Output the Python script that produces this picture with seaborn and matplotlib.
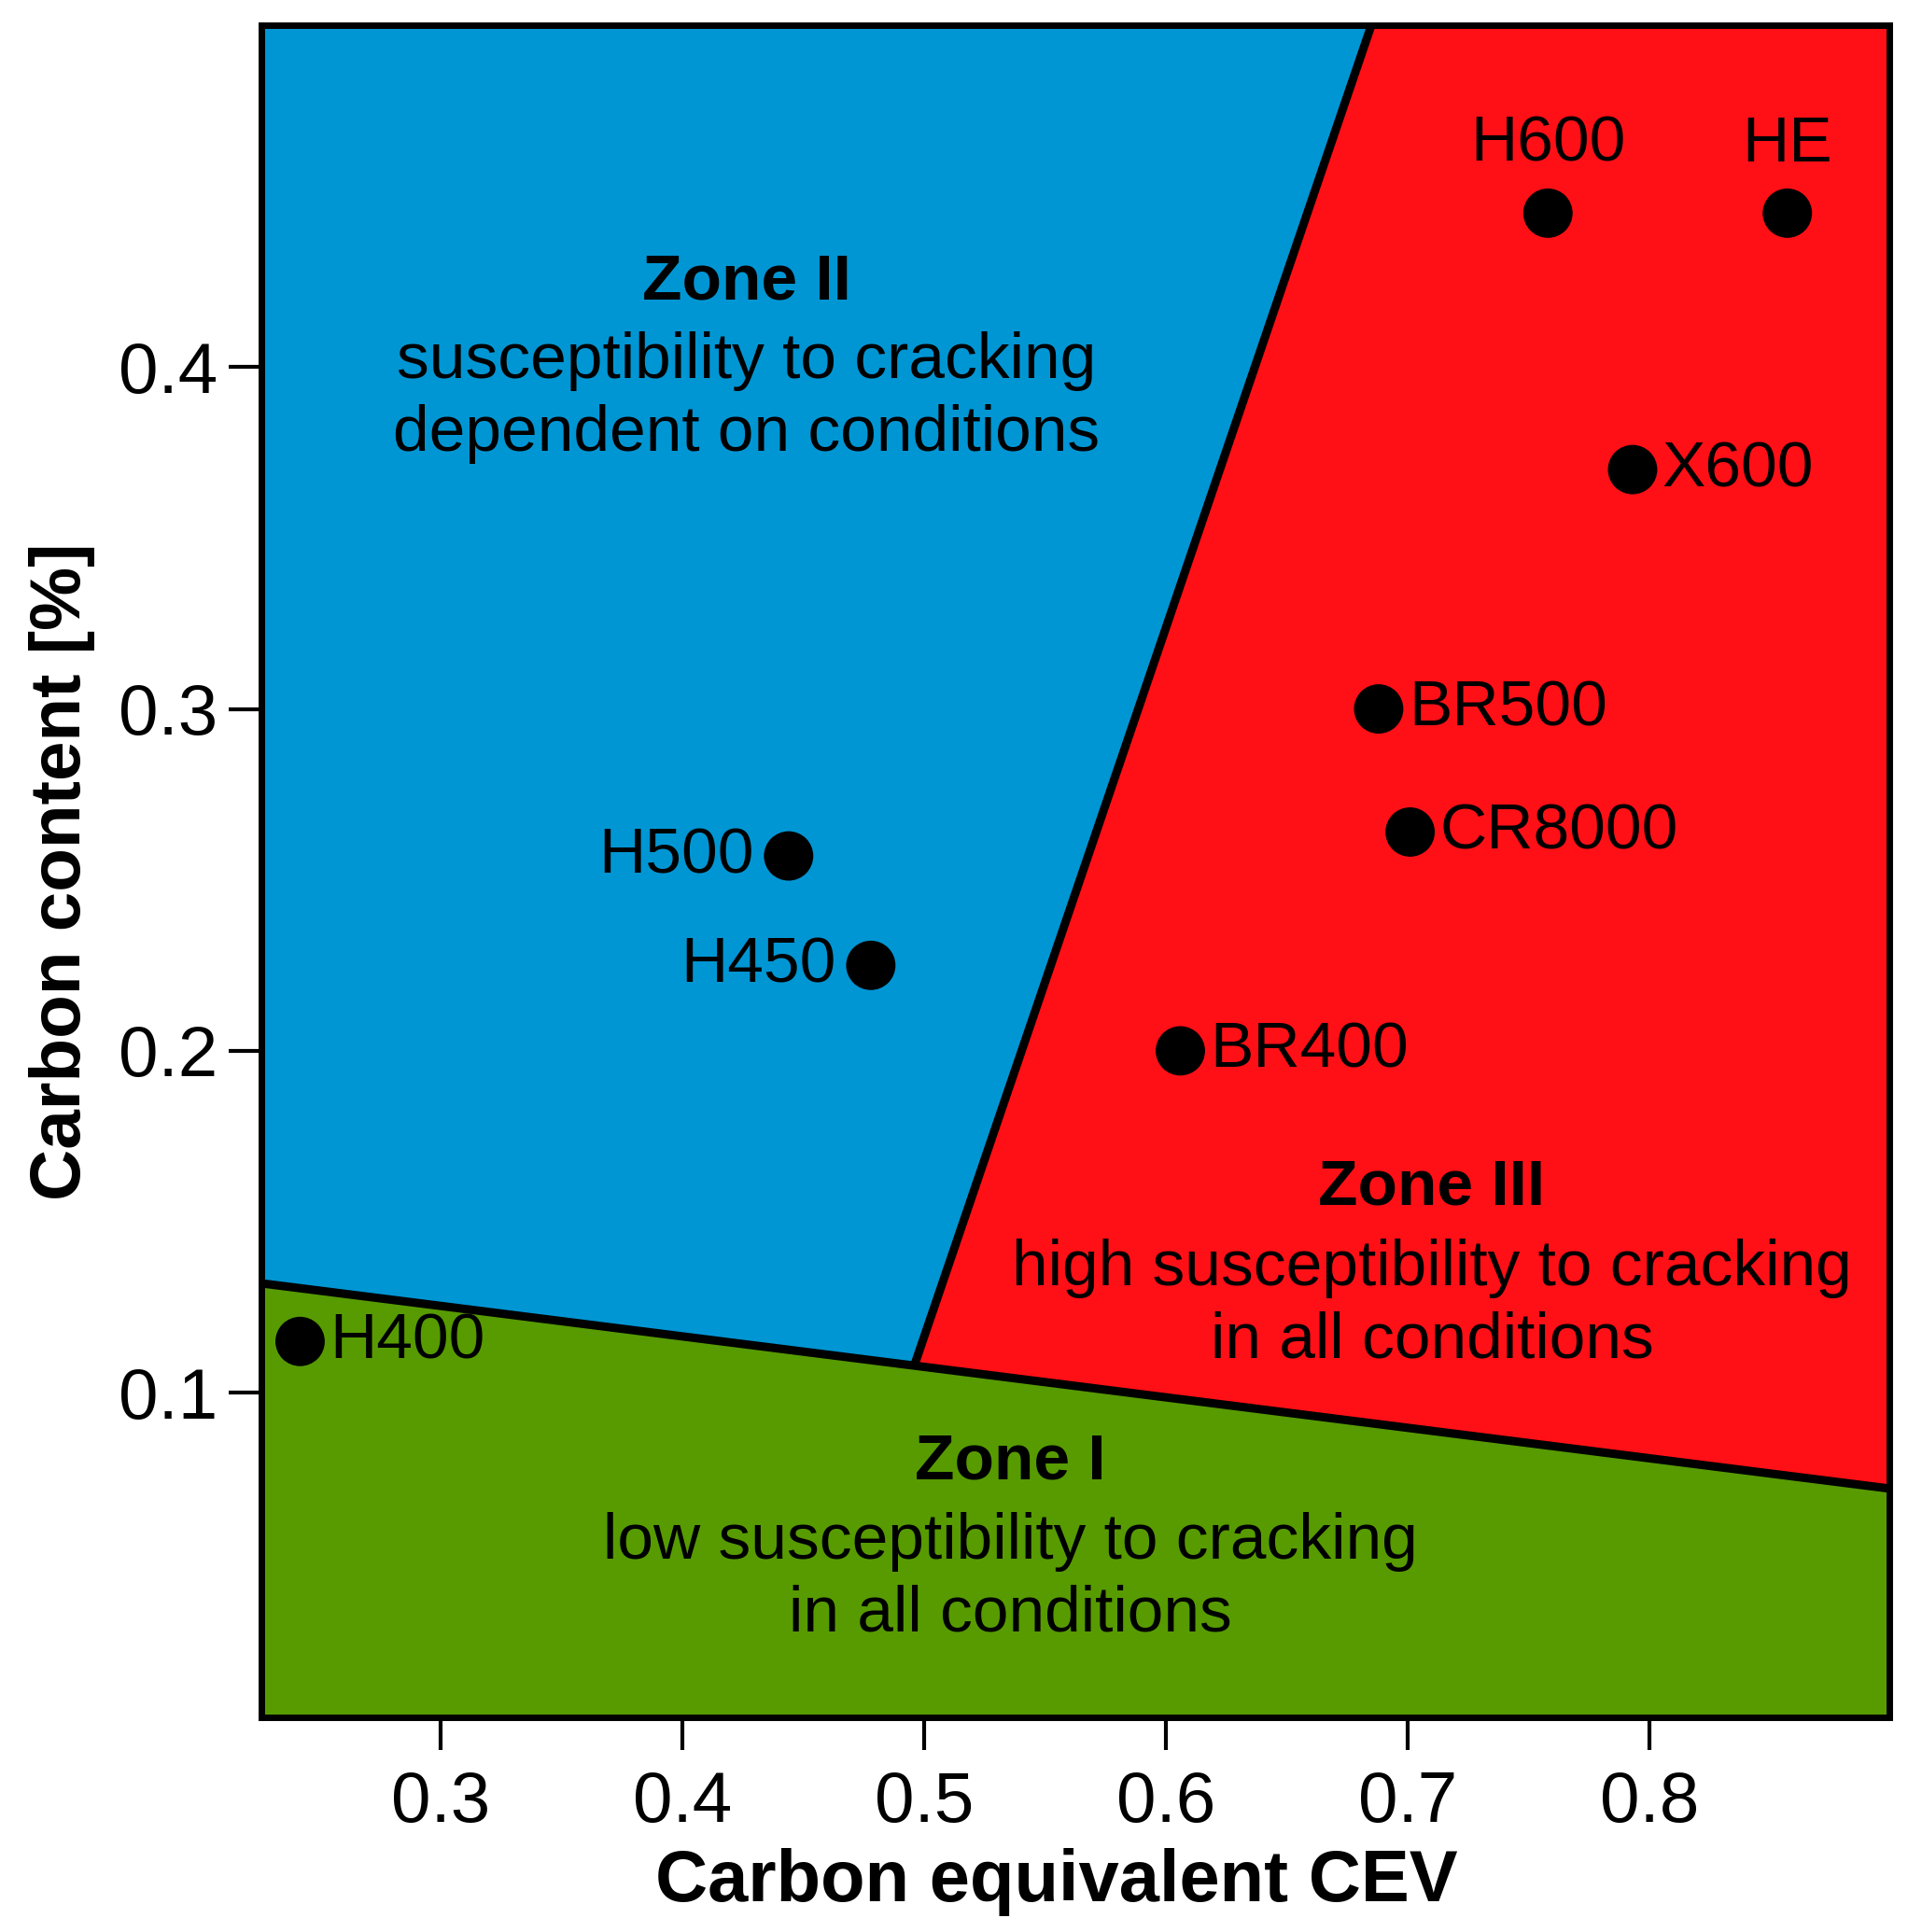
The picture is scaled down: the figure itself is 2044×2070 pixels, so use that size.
import matplotlib
matplotlib.use("Agg")
import matplotlib.pyplot as plt
import pandas as pd
import seaborn as sns

# steel grades: carbon equivalent vs carbon content
grades = ["H400", "H450", "H500", "BR400", "BR500", "CR8000", "X600", "H600", "HE"]
cev = [0.242, 0.478, 0.444, 0.606, 0.688, 0.701, 0.793, 0.758, 0.857]
carbon = [0.115, 0.225, 0.257, 0.200, 0.300, 0.264, 0.370, 0.445, 0.445]
label_side = ["right", "left", "left", "right", "right", "right", "right", "top", "top"]

# zone boundaries (Graville diagram)
lower_x = [0.226, 0.899]
lower_y = [0.132, 0.072]
steep_x = [0.496, 0.685]
steep_y = [0.108, 0.500]

xlim = (0.226, 0.899)
ylim = (0.005, 0.500)

zone_names = ["Zone I", "Zone II", "Zone III"]
zone_text = ["low susceptibility to cracking\nin all conditions",
             "susceptibility to cracking\ndependent on conditions",
             "high susceptibility to cracking\nin all conditions"]
zone_x = [0.5357, 0.4265, 0.710]
zone_title_y = [0.0798, 0.4249, 0.160]
zone_body_y = [0.0459, 0.391, 0.1257]
zone_colors = ["#579b00", "#0096d4", "#ff1016"]

sns.set_style("ticks")
plt.rcParams["font.family"] = ["Liberation Sans", "DejaVu Sans"]
plt.rcParams.update({"text.color": "black", "axes.labelcolor": "black",
                     "xtick.color": "black", "ytick.color": "black"})

fig = plt.figure(figsize=(20.44, 20.70), dpi=100)
ax = fig.add_axes([0.137, 0.111, 0.853, 0.876])
ax.set_xlim(*xlim)
ax.set_ylim(*ylim)

# build the zone polygons from the boundary lines
x0, x1 = xlim
y0, y1 = ylim
ax.fill([x0, x1, lower_x[1], lower_x[0]], [y0, y0, lower_y[1], lower_y[0]],
        color=zone_colors[0], zorder=1)
ax.fill([lower_x[0], steep_x[0], steep_x[1], x0], [lower_y[0], steep_y[0], steep_y[1], y1],
        color=zone_colors[1], zorder=1)
ax.fill([steep_x[0], lower_x[1], x1, steep_x[1]], [steep_y[0], lower_y[1], y1, steep_y[1]],
        color=zone_colors[2], zorder=1)
ax.plot(lower_x, lower_y, color="black", lw=6.5, zorder=2, solid_capstyle="butt")
ax.plot(steep_x, steep_y, color="black", lw=6.5, zorder=2, solid_capstyle="butt")

df = pd.DataFrame({"grade": grades, "cev": cev, "carbon": carbon, "side": label_side})
sns.scatterplot(data=df, x="cev", y="carbon", ax=ax, color="black", s=1450,
                edgecolor="none", zorder=3, legend=False)

for _, r in df.iterrows():
    if r["side"] == "right":
        ax.annotate(r["grade"], (r["cev"], r["carbon"]), xytext=(23, 0),
                    textcoords="offset points", ha="left", va="center", fontsize=50)
    elif r["side"] == "left":
        ax.annotate(r["grade"], (r["cev"], r["carbon"]), xytext=(-27, 0),
                    textcoords="offset points", ha="right", va="center", fontsize=50)
    else:
        ax.annotate(r["grade"], (r["cev"], r["carbon"]), xytext=(0, 30),
                    textcoords="offset points", ha="center", va="bottom", fontsize=50)

for name, txt, zx, ty, by in zip(zone_names, zone_text, zone_x, zone_title_y, zone_body_y):
    ax.text(zx, ty, name, ha="center", va="center", fontsize=50, fontweight="bold")
    ax.text(zx, by, txt, ha="center", va="center", fontsize=50, linespacing=1.27)

ax.set_xticks([0.3, 0.4, 0.5, 0.6, 0.7, 0.8])
ax.set_yticks([0.1, 0.2, 0.3, 0.4])
ax.set_xticklabels(["0.3", "0.4", "0.5", "0.6", "0.7", "0.8"])
ax.set_yticklabels(["0.1", "0.2", "0.3", "0.4"])
ax.tick_params(axis="both", labelsize=55, width=3, length=25)
ax.tick_params(axis="x", pad=16)
ax.tick_params(axis="y", pad=9)
ax.set_xlabel("Carbon equivalent CEV", fontsize=56, fontweight="bold")
ax.set_ylabel("Carbon content [%]", fontsize=55, fontweight="bold", labelpad=18)
ax.xaxis.set_label_coords(0.4886, -0.077)
for sp in ax.spines.values():
    sp.set_linewidth(5)
    sp.set_color("black")
    sp.set_zorder(5)

fig.savefig("out.png", dpi=100)
